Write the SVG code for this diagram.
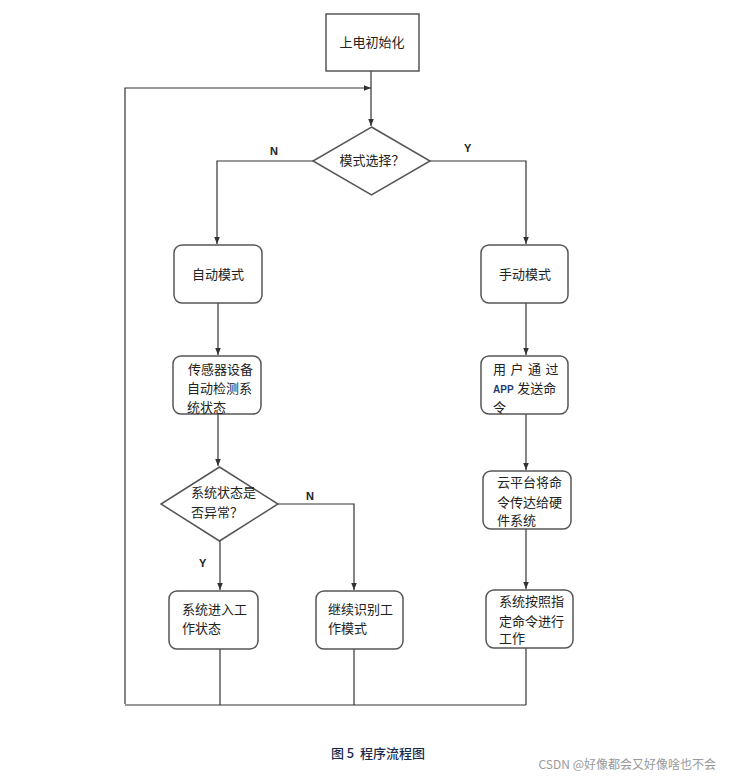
<svg xmlns="http://www.w3.org/2000/svg" width="731" height="780" viewBox="0 0 731 780">
<style>
.box{fill:#fff;stroke:#555;stroke-width:1.5}
.ln{fill:none;stroke:#333;stroke-width:1.2}
.t{font-family:"Liberation Sans","Noto Sans CJK SC",sans-serif;font-size:13px;fill:#222}
.lab{font-family:"Liberation Sans",sans-serif;font-size:11px;font-weight:bold;fill:#222}
</style>
<defs>
<marker id="arr" viewBox="0 0 10 10" refX="10" refY="5" markerWidth="6" markerHeight="6" orient="auto">
<path d="M0,1 L10,5 L0,9 Z" fill="#333"/>
</marker>
</defs>
<rect width="731" height="780" fill="#fff"/>
<g id="connectors">
<line class="ln" x1="371" y1="71" x2="371" y2="126" marker-end="url(#arr)"/>
<polyline class="ln" points="125,704 125,88 371,88" marker-end="url(#arr)"/>
<polyline class="ln" points="313,161 217,161 217,244" marker-end="url(#arr)"/>
<polyline class="ln" points="430,161 526,161 526,244" marker-end="url(#arr)"/>
<line class="ln" x1="218" y1="303" x2="218" y2="355" marker-end="url(#arr)"/>
<line class="ln" x1="218" y1="414" x2="218" y2="466" marker-end="url(#arr)"/>
<line class="ln" x1="526" y1="303" x2="526" y2="355" marker-end="url(#arr)"/>
<line class="ln" x1="526" y1="414" x2="526" y2="470" marker-end="url(#arr)"/>
<line class="ln" x1="526" y1="529" x2="526" y2="589" marker-end="url(#arr)"/>
<line class="ln" x1="220" y1="541" x2="220" y2="590" marker-end="url(#arr)"/>
<polyline class="ln" points="278,504 354,504 354,590" marker-end="url(#arr)"/>
<line class="ln" x1="220" y1="649" x2="220" y2="705"/>
<line class="ln" x1="354" y1="649" x2="354" y2="705"/>
<line class="ln" x1="526" y1="648" x2="526" y2="705"/>
<line class="ln" x1="125" y1="705" x2="526" y2="705"/>
<text class="lab" x="270" y="155">N</text>
<text class="lab" x="464" y="152">Y</text>
<text class="lab" x="306" y="500">N</text>
<text class="lab" x="199" y="567">Y</text>
</g>
<g id="init">
<rect class="box" x="326" y="14" width="93" height="57"/>
<text class="t" x="372" y="47" text-anchor="middle">上电初始化</text>
</g>
<g id="mode">
<polygon class="box" points="371.5,127 430,161 371.5,195 313,161"/>
<text class="t" x="372" y="165" text-anchor="middle">模式选择？</text>
</g>
<g id="auto">
<rect class="box" x="174" y="245" width="88" height="58" rx="8"/>
<text class="t" x="218" y="279" text-anchor="middle">自动模式</text>
</g>
<g id="manual">
<rect class="box" x="481" y="245" width="87" height="58" rx="8"/>
<text class="t" x="525" y="279" text-anchor="middle">手动模式</text>
</g>
<g id="sensor">
<rect class="box" x="173" y="356" width="88" height="58" rx="8"/>
<text class="t" x="188" y="374">传感器设备</text>
<text class="t" x="187" y="393">自动检测系</text>
<text class="t" x="187" y="412">统状态</text>
</g>
<g id="user">
<rect class="box" x="481" y="356" width="87" height="58" rx="8"/>
<text class="t" x="493" y="374" letter-spacing="4.5">用户通过</text>
<text class="t" x="493" y="393"><tspan font-size="10" font-weight="bold" fill="#1f3b73">APP</tspan> 发送命</text>
<text class="t" x="493" y="412">令</text>
</g>
<g id="check">
<polygon class="box" points="219.5,467 278,504 219.5,541 161,504"/>
<text class="t" x="191" y="497">系统状态是</text>
<text class="t" x="191" y="517">否异常？</text>
</g>
<g id="cloud">
<rect class="box" x="483" y="471" width="88" height="58" rx="8"/>
<text class="t" x="497" y="487">云平台将命</text>
<text class="t" x="497" y="507">令传达给硬</text>
<text class="t" x="497" y="525">件系统</text>
</g>
<g id="work">
<rect class="box" x="169" y="591" width="89" height="58" rx="8"/>
<text class="t" x="182" y="614">系统进入工</text>
<text class="t" x="182" y="633">作状态</text>
</g>
<g id="continue">
<rect class="box" x="316" y="591" width="87" height="58" rx="8"/>
<text class="t" x="328" y="614">继续识别工</text>
<text class="t" x="328" y="633">作模式</text>
</g>
<g id="execute">
<rect class="box" x="486" y="590" width="87" height="58" rx="8"/>
<text class="t" x="499" y="606">系统按照指</text>
<text class="t" x="499" y="626">定命令进行</text>
<text class="t" x="499" y="643">工作</text>
</g>
<text x="378" y="758" text-anchor="middle" xml:space="preserve" font-family="'Noto Sans CJK SC',sans-serif" font-size="13" font-weight="500" fill="#1a2a4a">图 5  程序流程图</text>
<text x="716" y="769" text-anchor="end" font-family="'Noto Sans CJK SC',sans-serif" font-size="12" fill="#999">CSDN @好像都会又好像啥也不会</text>
</svg>
